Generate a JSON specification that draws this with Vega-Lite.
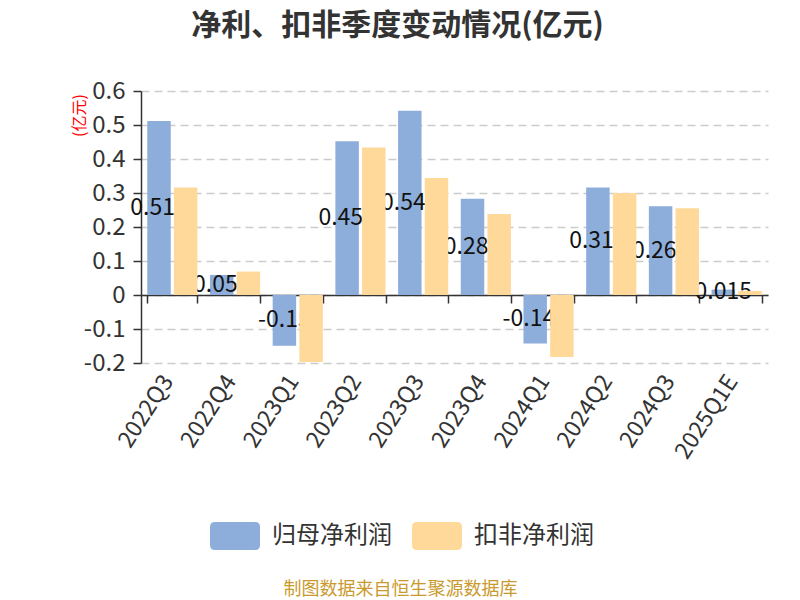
{
  "$schema": "https://vega.github.io/schema/vega-lite/v6.json",
  "autosize": {"type": "none"},
  "width": 627,
  "height": 272,
  "padding": {"left": 141, "top": 91, "right": 32, "bottom": 237},
  "background": "white",
  "title": {
    "text": "净利、扣非季度变动情况(亿元)",
    "fontSize": 30,
    "fontWeight": "bold",
    "color": "#333333",
    "anchor": "middle",
    "frame": "group",
    "dx": -57,
    "offset": 38
  },
  "config": {
    "font": "Noto Sans CJK SC",
    "view": {"stroke": null},
    "axisY": {
      "values": [-0.2, -0.1, 0, 0.1, 0.2, 0.3, 0.4, 0.5, 0.6],
      "labelOverlap": false,
      "labelExpr": "datum.value == 0 ? '0' : (datum.value < 0 ? '-' + format(-datum.value, '.1f') : format(datum.value, '.1f'))",
      "labelFontSize": 24, "labelColor": "#333333", "labelPadding": 8,
      "domainColor": "#333333", "domainWidth": 1.5,
      "tickColor": "#333333", "tickWidth": 1.5, "tickSize": 8,
      "grid": true, "gridColor": "#cccccc", "gridDash": [8, 5], "gridWidth": 1.5,
      "titleColor": "#ff0000", "titleFontSize": 16, "titleFontWeight": "normal",
      "titleX": -62, "titleY": 24, "titleAngle": -90, "titleAlign": "center", "titleBaseline": "middle"
    }
  },
  "data": {
    "values": [
      {"q": "2022Q3", "s": "归母净利润", "v": 0.512, "label": "0.512"},
      {"q": "2022Q4", "s": "归母净利润", "v": 0.059, "label": "0.059"},
      {"q": "2023Q1", "s": "归母净利润", "v": -0.149, "label": "-0.15"},
      {"q": "2023Q2", "s": "归母净利润", "v": 0.452, "label": "0.452"},
      {"q": "2023Q3", "s": "归母净利润", "v": 0.542, "label": "0.542"},
      {"q": "2023Q4", "s": "归母净利润", "v": 0.283, "label": "0.283"},
      {"q": "2024Q1", "s": "归母净利润", "v": -0.143, "label": "-0.143"},
      {"q": "2024Q2", "s": "归母净利润", "v": 0.316, "label": "0.316"},
      {"q": "2024Q3", "s": "归母净利润", "v": 0.261, "label": "0.261"},
      {"q": "2025Q1E", "s": "归母净利润", "v": 0.016, "label": "0.015"},
      {"q": "2022Q3", "s": "扣非净利润", "v": 0.316},
      {"q": "2022Q4", "s": "扣非净利润", "v": 0.069},
      {"q": "2023Q1", "s": "扣非净利润", "v": -0.197},
      {"q": "2023Q2", "s": "扣非净利润", "v": 0.434},
      {"q": "2023Q3", "s": "扣非净利润", "v": 0.344},
      {"q": "2023Q4", "s": "扣非净利润", "v": 0.238},
      {"q": "2024Q1", "s": "扣非净利润", "v": -0.182},
      {"q": "2024Q2", "s": "扣非净利润", "v": 0.300},
      {"q": "2024Q3", "s": "扣非净利润", "v": 0.255},
      {"q": "2025Q1E", "s": "扣非净利润", "v": 0.012}
    ]
  },
  "resolve": {"axis": {"x": "independent"}},
  "layer": [
    {
      "transform": [{"filter": "datum.s === '归母净利润'"}],
      "mark": {"type": "bar"},
      "encoding": {
        "x": {
          "field": "q", "type": "nominal", "sort": null,
          "scale": {"paddingInner": 0.2, "paddingOuter": 0.1},
          "axis": {
            "orient": "bottom",
            "title": null, "labels": false, "offset": -68,
            "domainColor": "#333333", "domainWidth": 1.5,
            "tickColor": "#333333", "tickWidth": 1.5, "tickSize": 8,
            "tickBand": "extent", "grid": false
          }
        },
        "xOffset": {"field": "s", "type": "nominal", "scale": {"domain": ["归母净利润", "扣非净利润"], "paddingInner": 0.12}},
        "y": {
          "field": "v", "type": "quantitative",
          "scale": {"domain": [-0.2, 0.6], "nice": false, "zero": false},
          "axis": {"title": "(亿元)"}
        },
        "color": {
          "field": "s", "type": "nominal",
          "scale": {"domain": ["归母净利润", "扣非净利润"], "range": ["#8DAEDB", "#FFD99A"]},
          "legend": {
            "title": null, "orient": "none", "direction": "horizontal",
            "legendX": 69, "legendY": 420,
            "symbolType": "M-0.8,-0.56 L0.8,-0.56 Q1,-0.56 1,-0.36 L1,0.36 Q1,0.56 0.8,0.56 L-0.8,0.56 Q-1,0.56 -1,0.36 L-1,-0.36 Q-1,-0.56 -0.8,-0.56 Z",
            "symbolSize": 2500, "symbolStrokeWidth": 0, "symbolOpacity": 1,
            "labelFontSize": 24, "labelColor": "#333333", "labelOffset": 12,
            "columnPadding": 20
          }
        }
      }
    },
    {
      "transform": [
        {"filter": "datum.s === '归母净利润'"},
        {"calculate": "datum.v / 2", "as": "mid"}
      ],
      "mark": {"type": "text", "fontSize": 23, "color": "#111111", "align": "center", "baseline": "middle"},
      "encoding": {
        "x": {"field": "q", "type": "nominal", "sort": null, "axis": null},
        "xOffset": {"field": "s", "type": "nominal", "scale": {"domain": ["归母净利润", "扣非净利润"]}},
        "y": {"field": "mid", "type": "quantitative", "axis": {"title": "(亿元)"}},
        "text": {"field": "label", "type": "nominal"}
      }
    },
    {
      "transform": [{"filter": "datum.s === '扣非净利润'"}],
      "mark": {"type": "bar"},
      "encoding": {
        "x": {
          "field": "q", "type": "nominal", "sort": null,
          "axis": {
            "orient": "bottom",
            "title": "制图数据来自恒生聚源数据库", "titleColor": "#C99A2E", "titleFontSize": 18, "titleFontWeight": "normal",
            "titleX": 259, "titleY": 226, "titleAlign": "center", "titleBaseline": "middle",
            "domain": false, "ticks": false, "grid": false,
            "labelAngle": -57, "labelAlign": "right", "labelBaseline": "middle",
            "labelFontSize": 23, "labelColor": "#333333", "labelPadding": 14, "labelOffset": -4
          }
        },
        "xOffset": {"field": "s", "type": "nominal", "scale": {"domain": ["归母净利润", "扣非净利润"]}},
        "y": {"field": "v", "type": "quantitative", "axis": {"title": "(亿元)"}},
        "color": {"field": "s", "type": "nominal"}
      }
    }
  ]
}
